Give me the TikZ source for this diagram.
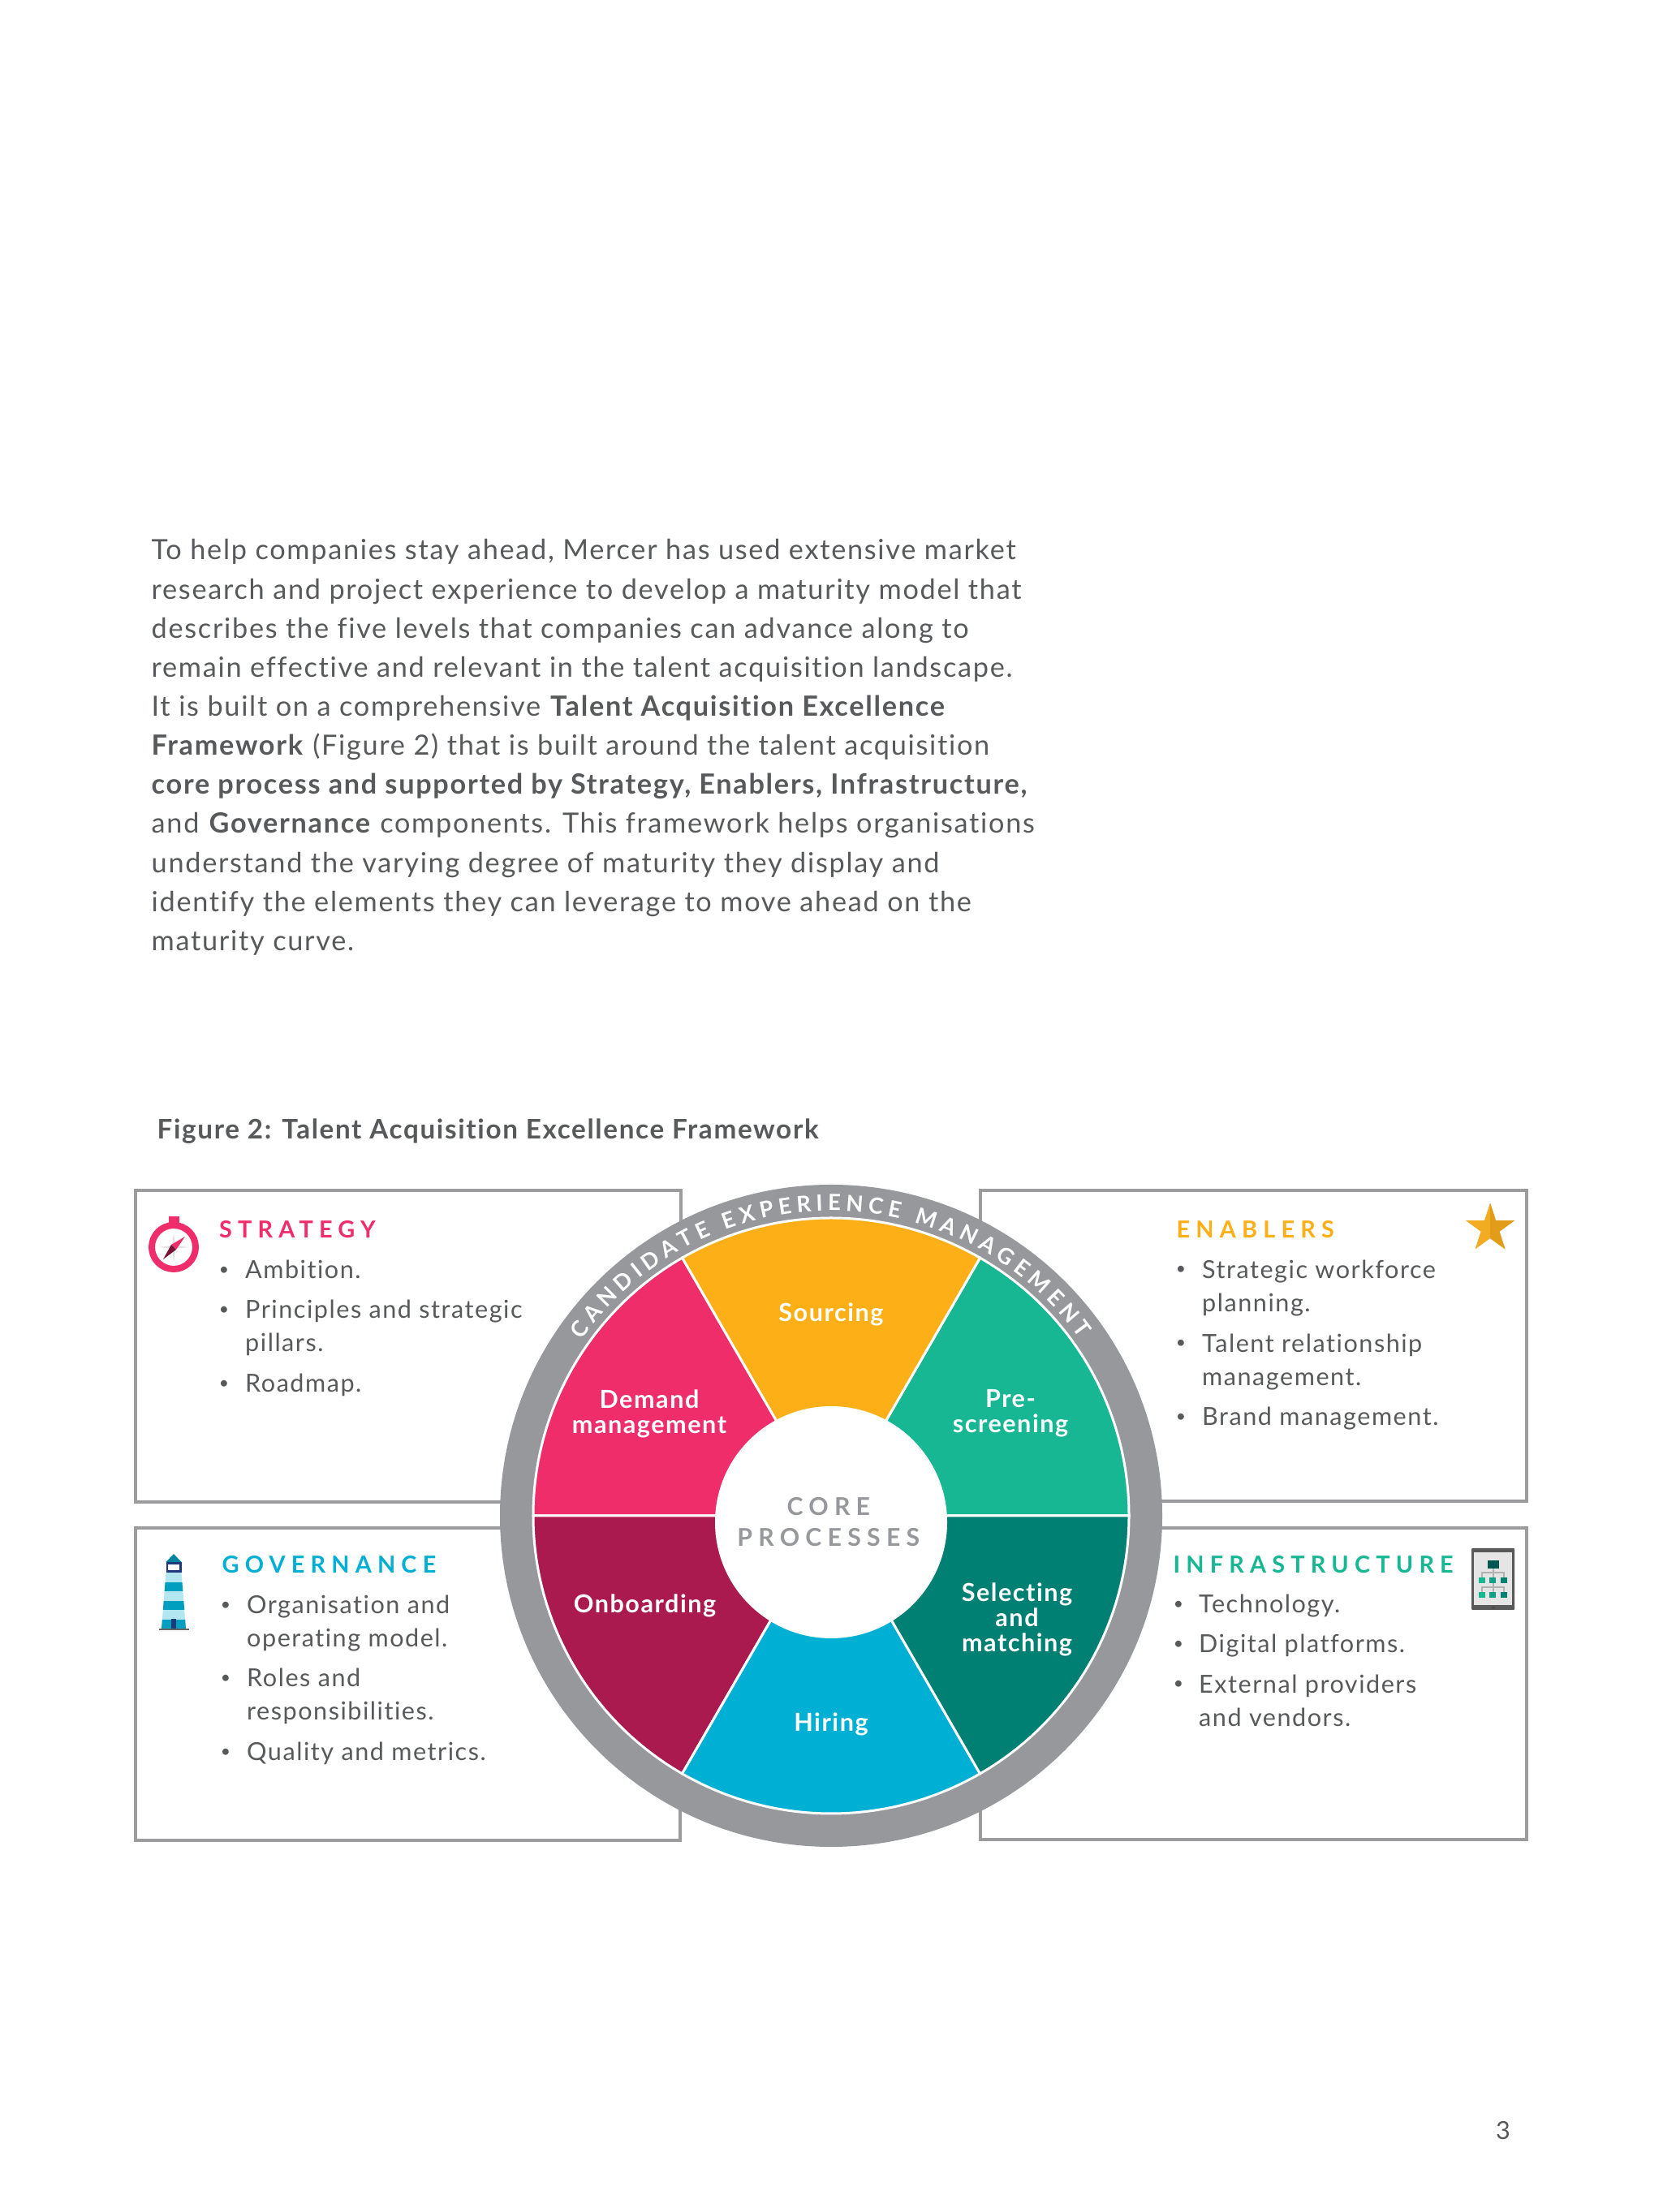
\documentclass[tikz,border=0pt]{standalone}
\usepackage{fontspec}
\setmainfont[LetterSpace=5,Ligatures=NoCommon]{Lato}
\newfontfamily\trackfont[LetterSpace=25]{Lato}
\newfontfamily\corefont[LetterSpace=24]{Lato}
\newfontfamily\ringfont{Lato}
\usepackage{xcolor}
\usetikzlibrary{decorations.text,shapes.geometric}
\definecolor{inkGrey}{HTML}{58595B}
\definecolor{ringGrey}{HTML}{97989C}
\definecolor{boxGrey}{HTML}{9C9C9E}
\definecolor{rose}{HTML}{EF2D6B}
\definecolor{amber}{HTML}{FCAF17}
\definecolor{jade}{HTML}{17B794}
\definecolor{pine}{HTML}{007F73}
\definecolor{sky}{HTML}{00B0D4}
\definecolor{wine}{HTML}{AA1A4E}
\definecolor{navy}{HTML}{1F3A7A}
\definecolor{starLight}{HTML}{F3AC22}
\definecolor{starDark}{HTML}{E39B1A}

\begin{document}
\begin{tikzpicture}[
  panel/.style={draw=boxGrey, line width=0.04cm, fill=white},
  headline/.style={anchor=base west, inner sep=0, font=\fontsize{8.2}{10}\trackfont\bfseries},
  itemtext/.style={anchor=base west, inner sep=0, align=left, text=inkGrey,
    font=\fontsize{8.7}{11.8}\selectfont},
  dotmark/.style={anchor=base, inner sep=0, text=inkGrey, font=\fontsize{6}{6}\selectfont},
  slice/.style={anchor=center, inner sep=0, align=center, text=white,
    font=\fontsize{8.7}{8.8}\selectfont\bfseries}
]
  \useasboundingbox[fill=white] (0,0) rectangle (20.48,27.26);
  % page text
  \node[anchor=north west, inner sep=0, align=left, text=inkGrey,
    font=\fontsize{9.75}{13.7}\selectfont] (intro) at (1.86,20.62) {%
    To help companies stay ahead, Mercer has used extensive market\\
    research and project experience to develop a maturity model that\\
    describes the five levels that companies can advance along to\\
    remain effective and relevant in the talent acquisition landscape.\\
    It is built on a comprehensive \textbf{Talent Acquisition Excellence}\\
    \textbf{Framework} (Figure 2) that is built around the talent acquisition\\
    \textbf{core process and supported by Strategy, Enablers, Infrastructure,}\\
    and \textbf{Governance} components. This framework helps organisations\\
    understand the varying degree of maturity they display and\\
    identify the elements they can leverage to move ahead on the\\
    maturity curve.};
  \node[anchor=base west, inner sep=0, text=inkGrey, font=\fontsize{9.45}{12}\selectfont\bfseries]
    (figtitle) at (1.93,13.22) {Figure 2: Talent Acquisition Excellence Framework};
  \node[anchor=base, inner sep=0, text=inkGrey, font=\fontsize{8.7}{10}\selectfont]
    (pagenum) at (18.52,0.89) {3};
  %
  \draw[panel] (1.67,12.59) rectangle (8.39,8.75);
  \draw[panel] (1.67,8.43) rectangle (8.38,4.58);
  \draw[panel] (12.08,12.59) rectangle (18.81,8.76);
  \draw[panel] (12.08,8.43) rectangle (18.81,4.59);
  % wheel
  \coordinate (wheel) at (10.24,8.58);
  \fill[ringGrey] (wheel) circle (4.08);
  \foreach \a/\col in {0/jade,60/amber,120/rose,180/wine,240/sky,300/pine}
    \filldraw[fill=\col, draw=white, line width=0.03cm]
      (wheel) -- +(\a:3.67) arc[start angle=\a, delta angle=60, radius=3.67] -- cycle;
  \path[decorate, decoration={text along path, text align={fit to path},
      text={|\fontsize{7.8}{8}\ringfont\bfseries\color{white}|CANDIDATE EXPERIENCE MANAGEMENT}}]
    ([shift={(144.8:3.76)}]wheel) arc[start angle=144.8, end angle=35.4, radius=3.76];
  \node[circle, fill=white, inner sep=0, minimum size=2.86cm, align=center, text=ringGrey,
    font=\fontsize{8.6}{10.8}\corefont\bfseries] (hub) at (10.24,8.50)
    {\hspace*{-1.8pt}CORE\\\hspace*{-1.8pt}PROCESSES};
  \node[slice] (sourcing) at (10.24,11.06) {Sourcing};
  \node[slice] (demand) at (8.00,9.84) {Demand\\management};
  \node[slice] (prescreen) at (12.45,9.84) {Pre-\\screening};
  \node[slice] (selecting) at (12.53,7.30) {Selecting\\and\\matching};
  \node[slice] (onboarding) at (7.945,7.47) {Onboarding};
  \node[slice] (hiring) at (10.24,6.01) {Hiring};
  % panel text
  \node[headline, text=rose] (strategy) at (2.695,12.005) {STRATEGY};
  \node[headline, text=amber] (enablers) at (14.49,12.005) {ENABLERS};
  \node[headline, text=sky] (governance) at (2.73,7.875) {GOVERNANCE};
  \node[headline, text=jade] (infrastructure) at (14.45,7.875) {INFRASTRUCTURE};
  \node[itemtext] (ambition) at (3.015,11.505) {Ambition.};
  \node[itemtext] (principles) at (3.015,10.605) {Principles and strategic\\pillars.};
  \node[itemtext] (roadmap) at (3.015,10.105) {Roadmap.};
  \node[itemtext] (workforce) at (14.805,11.095) {Strategic workforce\\planning.};
  \node[itemtext] (relationship) at (14.805,10.185) {Talent relationship\\management.};
  \node[itemtext] (brand) at (14.805,9.695) {Brand management.};
  \node[itemtext] (organisation) at (3.035,6.965) {Organisation and\\operating model.};
  \node[itemtext] (roles) at (3.035,6.065) {Roles and\\responsibilities.};
  \node[itemtext] (quality) at (3.035,5.565) {Quality and metrics.};
  \node[itemtext] (technology) at (14.765,7.385) {Technology.};
  \node[itemtext] (digital) at (14.765,6.895) {Digital platforms.};
  \node[itemtext] (external) at (14.765,5.985) {External providers\\and vendors.};
  \foreach \bx/\by [count=\i] in {2.76/11.52,2.76/11.03,2.76/10.12,14.55/11.53,14.55/10.62,14.55/9.71,
      2.78/7.39,2.78/6.49,2.78/5.58,14.52/7.40,14.52/6.91,14.52/6.42}
    \node[dotmark] (dot\i) at (\bx,\by+0.02) {•};
  % compass
  \fill[rose] (2.08,12.27) rectangle (2.21,12.14);
  \draw[rose, line width=0.08cm] (2.14,11.89) circle (0.27);
  \fill[black!12] (2.14,12.07) -- (2.16,11.91) -- (2.32,11.89) -- (2.16,11.87) -- (2.14,11.71)
    -- (2.12,11.87) -- (1.96,11.89) -- (2.12,11.91) -- cycle;
  \fill[rose] (2.28,12.02) -- (2.11,11.92) -- (2.17,11.86) -- cycle;
  \fill[wine!70!black] (2.01,11.74) -- (2.11,11.92) -- (2.17,11.86) -- cycle;
  % star
  \node[star, star points=5, star point ratio=2.618, fill=starLight, inner sep=0,
    minimum size=0.63cm] (staricon) at (18.36,12.12) {};
  \begin{scope}
    \clip (18.36,11.7) rectangle (18.8,12.5);
    \node[star, star points=5, star point ratio=2.618, fill=starDark, inner sep=0,
      minimum size=0.63cm] (starshade) at (18.36,12.12) {};
  \end{scope}
  % lighthouse
  \fill[sky!75!black] (2.045,8.01) -- (2.14,8.11) -- (2.235,8.01) -- cycle;
  \fill[navy] (2.045,7.88) rectangle (2.235,8.01);
  \fill[white] (2.07,7.91) rectangle (2.21,7.98);
  \begin{scope}
    \clip (2.045,7.88) -- (2.235,7.88) -- (2.29,7.19) -- (1.99,7.19) -- cycle;
    \fill[sky!30] (1.9,7.19) rectangle (2.4,7.88);
    \foreach \ys in {7.19,7.42,7.65}
      \fill[sky!90!black] (1.9,\ys) rectangle (2.4,\ys+0.11);
  \end{scope}
  \fill[navy] (2.11,7.18) rectangle (2.17,7.31);
  \draw[black!60, line width=0.015cm] (1.96,7.18) -- (2.33,7.18);
  % tablet
  \fill[black!65, rounded corners=0.01cm] (18.13,8.18) rectangle (18.66,7.42);
  \fill[black!10] (18.16,8.13) rectangle (18.63,7.48);
  \draw[black!30, line width=0.012cm] (18.40,7.93) -- (18.40,7.57)
    (18.26,7.82) |- (18.53,7.88) -- (18.53,7.82) (18.26,7.64) |- (18.53,7.70) -- (18.53,7.64);
  \fill[black!70] (18.40,7.45) circle (0.02);
  \fill[pine!70!black] (18.33,7.93) rectangle (18.47,8.03);
  \foreach \ty in {7.57,7.75}{
    \fill[jade] (18.22,\ty) rectangle (18.30,\ty+0.07);
    \fill[jade!60!pine] (18.35,\ty) rectangle (18.43,\ty+0.07);
    \fill[pine] (18.49,\ty) rectangle (18.57,\ty+0.07);
  }
\end{tikzpicture}
\end{document}
